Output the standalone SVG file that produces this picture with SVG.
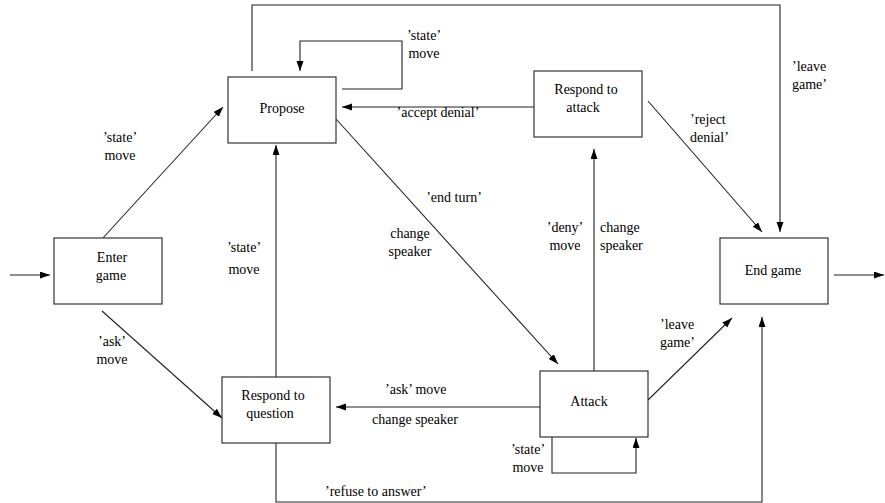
<svg xmlns="http://www.w3.org/2000/svg" width="885" height="503" viewBox="0 0 885 503" font-family="'Liberation Serif', 'DejaVu Serif', serif" font-size="14">
<defs>
<marker id="ah" markerUnits="userSpaceOnUse" markerWidth="11" markerHeight="8" refX="10" refY="3.5" orient="auto">
<path d="M0,0 L10,3.5 L0,7 z" fill="#000"/>
</marker>
<style>
.box{fill:#fff;stroke:#333;stroke-width:1.2}
.t{text-anchor:middle}
.e{fill:none;stroke:#222;stroke-width:1.1;marker-end:url(#ah)}
</style>
</defs>
<rect width="885" height="503" fill="#fff"/>
<g id="connectors">
<line class="e" x1="10" y1="275" x2="50" y2="275"/>
<line class="e" x1="834" y1="275" x2="884" y2="275"/>
<line class="e" x1="102" y1="239" x2="223" y2="107"/>
<line class="e" x1="102" y1="311" x2="222" y2="418"/>
<line class="e" x1="276" y1="377" x2="276" y2="145"/>
<polyline class="e" points="342,89 402,89 402,41 300,41 300,71"/>
<line class="e" x1="534" y1="107" x2="342" y2="107"/>
<line class="e" x1="336" y1="119" x2="558" y2="364"/>
<line class="e" x1="594" y1="371" x2="594" y2="149"/>
<line class="e" x1="648" y1="101" x2="762" y2="232"/>
<polyline class="e" points="252,71 252,5 780,5 780,232"/>
<line class="e" x1="540" y1="407" x2="336" y2="407"/>
<line class="e" x1="648" y1="400" x2="732" y2="318"/>
<polyline class="e" points="552,437 552,473 636,473 636,438"/>
<polyline class="e" points="276,443 276,502 762,502 762,317"/>
<text class="t" x="120" y="142">’state’</text>
<text class="t" x="120" y="160">move</text>
<text class="t" x="424" y="40">’state’</text>
<text class="t" x="424" y="58">move</text>
<text class="t" x="438" y="117">’accept denial’</text>
<text class="t" x="454" y="202">’end turn’</text>
<text class="t" x="410" y="238">change</text>
<text class="t" x="410" y="256">speaker</text>
<text class="t" x="244" y="252">’state’</text>
<text class="t" x="244" y="274">move</text>
<text class="t" x="112" y="346">’ask’</text>
<text class="t" x="112" y="364">move</text>
<text class="t" x="565" y="232">’deny’</text>
<text class="t" x="565" y="250">move</text>
<text x="600" y="232">change</text>
<text x="600" y="250">speaker</text>
<text x="690" y="124">’reject</text>
<text x="690" y="142">denial’</text>
<text x="792" y="71">’leave</text>
<text x="792" y="89">game’</text>
<text x="660" y="329">’leave</text>
<text x="660" y="347">game’</text>
<text x="385" y="394">’ask’ move</text>
<text x="372" y="424">change speaker</text>
<text class="t" x="528" y="454">’state’</text>
<text class="t" x="528" y="472">move</text>
<text x="325" y="496">’refuse to answer’</text>
</g>
<g id="propose"><rect class="box" x="228" y="77" width="108" height="66"/><text class="t" x="282" y="113">Propose</text></g>
<g id="respond-attack"><rect class="box" x="534" y="71" width="108" height="66"/><text class="t" x="586" y="94">Respond to</text><text class="t" x="583" y="112">attack</text></g>
<g id="enter-game"><rect class="box" x="54" y="238" width="108" height="66"/><text class="t" x="112" y="262">Enter</text><text class="t" x="111" y="280">game</text></g>
<g id="respond-question"><rect class="box" x="222" y="377" width="108" height="66"/><text class="t" x="273" y="400">Respond to</text><text class="t" x="270" y="418">question</text></g>
<g id="attack"><rect class="box" x="540" y="371" width="108" height="66"/><text class="t" x="589" y="406">Attack</text></g>
<g id="end-game"><rect class="box" x="720" y="238" width="108" height="66"/><text class="t" x="773" y="275">End game</text></g>
</svg>
